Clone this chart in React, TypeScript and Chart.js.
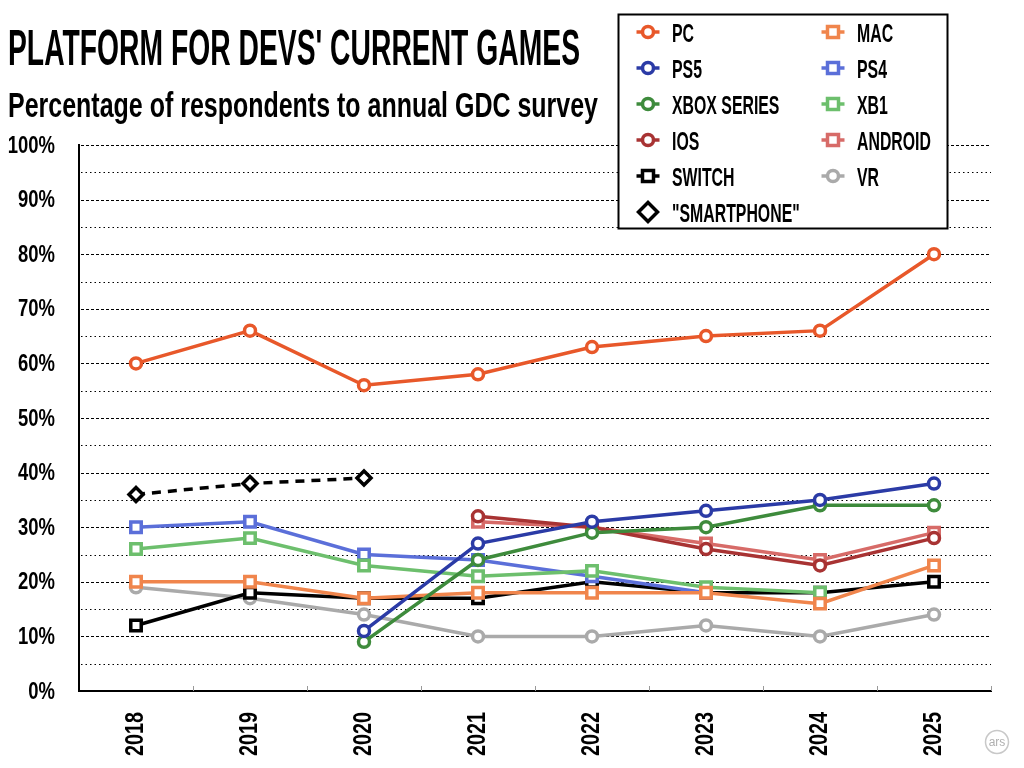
import React, { useEffect, useRef } from 'react';
import { Chart, registerables } from 'chart.js';

Chart.register(...registerables);

const years = ['2018', '2019', '2020', '2021', '2022', '2023', '2024', '2025'];
const pc = [60, 66, 56, 58, 63, 65, 66, 80];
const mac = [20, 20, 17, 18, 18, 18, 16, 23];
const ps5 = [null, null, 11, 27, 31, 33, 35, 38];
const ps4 = [30, 31, 25, 24, 21, 18, null, null];
const xboxSeries = [null, null, 9, 24, 29, 30, 34, 34];
const xb1 = [26, 28, 23, 21, 22, 19, 18, null];
const ios = [null, null, null, 32, 30, 26, 23, 28];
const android = [null, null, null, 31, 30, 27, 24, 29];
const nSwitch = [12, 18, 17, 17, 20, 18, 18, 20];
const vr = [19, 17, 14, 10, 10, 12, 10, 14];
const smartphone = [36, 38, 39, null, null, null, null, null];

const yTickValues = [0, 10, 20, 30, 40, 50, 60, 70, 80, 90, 100];

type Marker = 'circle' | 'rect' | 'rectRot';
interface Series {
  label: string;
  data: (number | null)[];
  color: string;
  marker: Marker;
  dashed?: boolean;
  order: number;
}

const series: Series[] = [
  { label: 'PC', data: pc, color: '#E8582A', marker: 'circle', order: 0 },
  { label: 'MAC', data: mac, color: '#F0854C', marker: 'rect', order: 5 },
  { label: 'PS5', data: ps5, color: '#2B3BA6', marker: 'circle', order: 1 },
  { label: 'PS4', data: ps4, color: '#5B6FD9', marker: 'rect', order: 7 },
  { label: 'XBOX SERIES', data: xboxSeries, color: '#3E8B3C', marker: 'circle', order: 2 },
  { label: 'XB1', data: xb1, color: '#6DBF6D', marker: 'rect', order: 6 },
  { label: 'IOS', data: ios, color: '#A83333', marker: 'circle', order: 3 },
  { label: 'ANDROID', data: android, color: '#D76B68', marker: 'rect', order: 4 },
  { label: 'SWITCH', data: nSwitch, color: '#000000', marker: 'rect', order: 8 },
  { label: 'VR', data: vr, color: '#AAAAAA', marker: 'circle', order: 9 },
  { label: '"SMARTPHONE"', data: smartphone, color: '#000000', marker: 'rectRot', dashed: true, order: 10 },
];

const FONT = '"Liberation Sans", Arial, sans-serif';

const gridPlugin = {
  id: 'customGrid',
  beforeDatasetsDraw(chart: any) {
    const { ctx, chartArea, scales } = chart;
    const y = scales.y;
    const x = scales.x;
    ctx.save();
    ctx.strokeStyle = '#000';
    ctx.lineWidth = 1;
    for (let v = y.min + 5; v <= y.max; v += 5) {
      const py = Math.round(y.getPixelForValue(v)) + 0.5;
      ctx.setLineDash(v % 10 === 0 ? [3, 2] : [1.5, 3]);
      ctx.beginPath();
      ctx.moveTo(chartArea.left + 2, py);
      ctx.lineTo(chartArea.right, py);
      ctx.stroke();
    }
    ctx.setLineDash([]);
    ctx.strokeStyle = '#999';
    for (let i = 1; i <= years.length; i++) {
      const a = x.getPixelForValue(i - 1);
      const b = i < years.length ? x.getPixelForValue(i) : a + (a - x.getPixelForValue(i - 2));
      const px = Math.round((a + b) / 2) + 0.5;
      ctx.beginPath();
      ctx.moveTo(px, chartArea.bottom);
      ctx.lineTo(px, chartArea.bottom - 5);
      ctx.stroke();
    }
    ctx.restore();
  },
};

// Condensed tick labels, placed with the chart's own scales
const labelPlugin = {
  id: 'condensedLabels',
  afterDraw(chart: any) {
    const { ctx, chartArea, scales } = chart;
    const y = scales.y;
    const x = scales.x;
    ctx.save();
    ctx.fillStyle = '#000';
    ctx.font = `bold 24px ${FONT}`;
    ctx.textAlign = 'right';
    ctx.textBaseline = 'middle';
    y.ticks.forEach((t: any) => {
      const py = y.getPixelForValue(t.value);
      ctx.save();
      ctx.translate(chartArea.left - 24, py + 1);
      ctx.scale(0.77, 1);
      ctx.fillText(`${t.value}%`, 0, 0);
      ctx.restore();
    });
    ctx.font = `bold 25px ${FONT}`;
    ctx.textAlign = 'right';
    ctx.textBaseline = 'middle';
    years.forEach((lab, i) => {
      const px = x.getPixelForValue(i);
      ctx.save();
      ctx.translate(px, chartArea.bottom + 21);
      ctx.rotate(-Math.PI / 2);
      ctx.scale(0.79, 1);
      ctx.fillText(lab, 0, 0);
      ctx.restore();
    });
    ctx.restore();
  },
};

function LegendMarker({ s, cx, cy }: { s: Series; cx: number; cy: number }) {
  if (s.marker === 'rectRot') {
    const r = 9.5;
    return (
      <polygon
        points={`${cx},${cy - r} ${cx + r},${cy} ${cx},${cy + r} ${cx - r},${cy}`}
        fill="#fff"
        stroke={s.color}
        strokeWidth={3.5}
      />
    );
  }
  return (
    <g>
      <line x1={cx - 11.5} y1={cy} x2={cx + 11.5} y2={cy} stroke={s.color} strokeWidth={3.5} />
      {s.marker === 'circle' ? (
        <circle cx={cx} cy={cy} r={5.5} fill="#fff" stroke={s.color} strokeWidth={3.5} />
      ) : (
        <rect x={cx - 5.5} y={cy - 5.5} width={11} height={11} fill="#fff" stroke={s.color} strokeWidth={3.5} />
      )}
    </g>
  );
}

export default function App() {
  const canvasRef = useRef<HTMLCanvasElement | null>(null);

  useEffect(() => {
    if (!canvasRef.current) return;
    const chart = new Chart(canvasRef.current, {
      type: 'line',
      data: {
        labels: years,
        datasets: series.map((s) => ({
          label: s.label,
          data: s.data,
          borderColor: s.color,
          backgroundColor: '#fff',
          borderWidth: 3.5,
          borderDash: s.dashed ? [9, 7] : [],
          pointStyle: s.marker,
          pointRadius: s.marker === 'circle' ? 5.5 : s.marker === 'rect' ? 7.4 : 7,
          pointBorderWidth: 3.5,
          pointBackgroundColor: '#fff',
          pointBorderColor: s.color,
          pointHoverRadius: 6,
          spanGaps: false,
          tension: 0,
          order: s.order,
        })),
      },
      plugins: [gridPlugin, labelPlugin],
      options: {
        responsive: false,
        animation: false,
        devicePixelRatio: 1,
        layout: { padding: { top: 145, right: 33, left: 0, bottom: 0 } },
        plugins: {
          legend: { display: false },
          tooltip: { enabled: false },
          title: { display: false },
        },
        scales: {
          x: {
            type: 'category',
            offset: true,
            grid: { display: false, drawTicks: false },
            border: { display: true, color: '#000', width: 2 },
            ticks: { display: false },
            afterFit: (s: any) => {
              s.height = 77;
            },
          },
          y: {
            min: 0,
            max: 100,
            afterBuildTicks: (s: any) => {
              s.ticks = yTickValues.map((v) => ({ value: v }));
            },
            grid: { display: false, drawTicks: false },
            border: { display: true, color: '#000', width: 2 },
            ticks: { display: false },
            afterFit: (s: any) => {
              s.width = 79;
            },
          },
        },
      },
    } as any);
    return () => chart.destroy();
  }, []);

  const legendCols = [
    { markerX: 648, textX: 672 },
    { markerX: 833, textX: 857 },
  ];

  return (
    <div style={{ position: 'fixed', left: 0, top: 0, width: 1024, height: 768, background: '#fff' }}>
      <canvas ref={canvasRef} width={1024} height={768} style={{ position: 'absolute', left: 0, top: 0 }} />
      <svg width={1024} height={768} style={{ position: 'absolute', left: 0, top: 0 }}>
        <text
          x={8}
          y={65}
          fontFamily={FONT}
          fontWeight="bold"
          fontSize={50}
          textLength={572}
          lengthAdjust="spacingAndGlyphs"
          fill="#000"
        >
          PLATFORM FOR DEVS' CURRENT GAMES
        </text>
        <text
          x={8}
          y={117}
          fontFamily={FONT}
          fontWeight="bold"
          fontSize={35}
          textLength={590}
          lengthAdjust="spacingAndGlyphs"
          fill="#000"
        >
          Percentage of respondents to annual GDC survey
        </text>
        <rect x={618.5} y={14.5} width={329} height={214} fill="#fff" stroke="#000" strokeWidth={2} />
        {series.map((s, i) => {
          const col = legendCols[i % 2];
          const cy = 32 + Math.floor(i / 2) * 36;
          return (
            <g key={s.label}>
              <LegendMarker s={s} cx={col.markerX} cy={cy} />
              <text
                transform={`translate(${col.textX},${cy + 9.5}) scale(0.61,1)`}
                fontFamily={FONT}
                fontWeight="bold"
                fontSize={26}
                fill="#000"
              >
                {s.label}
              </text>
            </g>
          );
        })}
        <circle cx={997} cy={742} r={11.5} fill="#fff" stroke="#C8C8C8" strokeWidth={1.5} />
        <text x={997} y={746} textAnchor="middle" fontFamily={FONT} fontSize={12} fill="#B0B0B0">
          ars
        </text>
      </svg>
    </div>
  );
}
